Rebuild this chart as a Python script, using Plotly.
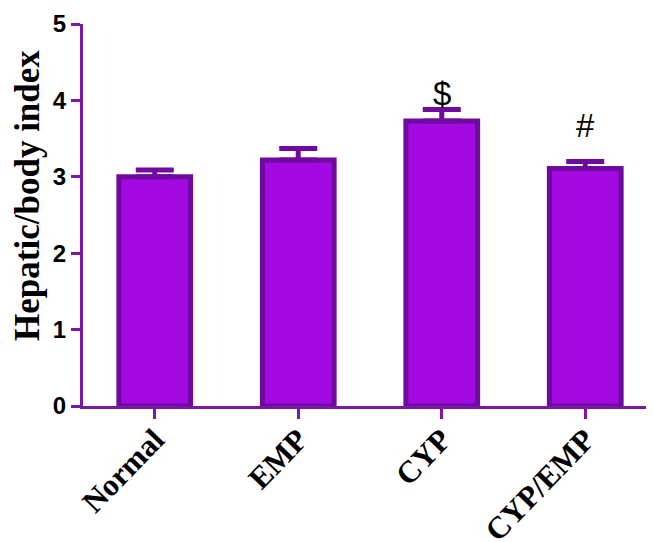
import plotly.graph_objects as go

categories = ["Normal", "EMP", "CYP", "CYP/EMP"]
means = [3.0, 3.22, 3.73, 3.11]
sems = [0.09, 0.15, 0.15, 0.09]
marks = ["", "", "$", "#"]
mark_shift = [0, 0, -4, 16]
yticks = [0, 1, 2, 3, 4, 5]

fill = "#A30AE2"
edge = "#6E0A9E"
axis_col = "#7A17A8"

fig = go.Figure()
fig.add_trace(go.Bar(
    x=categories, y=means, width=0.5,
    marker=dict(color=fill, line=dict(color=edge, width=5)),
    error_y=dict(type="data", symmetric=False, array=sems,
                 arrayminus=[0] * len(sems), color=edge, thickness=5, width=19),
))

for c, m, s, t, sh in zip(categories, means, sems, marks, mark_shift):
    if t:
        fig.add_annotation(x=c, y=m + s, text=t, showarrow=False, yanchor="bottom",
                           yshift=sh, font=dict(family="Liberation Sans", size=33, color="black"))

fig.add_annotation(
    text="<b>Hepatic/body index</b>", textangle=-90, showarrow=False,
    xref="paper", yref="paper", x=0, y=0.55, xanchor="center", yanchor="middle",
    xshift=-55,
    font=dict(family="Liberation Serif", size=35, color="black"),
)

fig.update_layout(
    width=654, height=542,
    margin=dict(l=75, r=5, t=16, b=144),
    plot_bgcolor="white", paper_bgcolor="white",
    showlegend=False,
)
fig.update_xaxes(
    range=[-0.5, 3.5], showline=True, linecolor=axis_col, linewidth=3,
    ticks="outside", ticklen=10, tickwidth=3, tickcolor=axis_col,
    tickangle=-46, automargin=False, ticklabelstandoff=-10,
    tickfont=dict(family="Liberation Serif", size=31, color="black", weight="bold"),
    showgrid=False, zeroline=False,
)
fig.update_yaxes(
    range=[0, 5], tickvals=yticks, showline=True, linecolor=axis_col, linewidth=3,
    ticks="outside", ticklen=9, tickwidth=3, tickcolor=axis_col,
    tickfont=dict(family="Liberation Sans", size=24, color="black", weight="bold"),
    showgrid=False, zeroline=False, automargin=False,
)

fig.write_html("out.html")
